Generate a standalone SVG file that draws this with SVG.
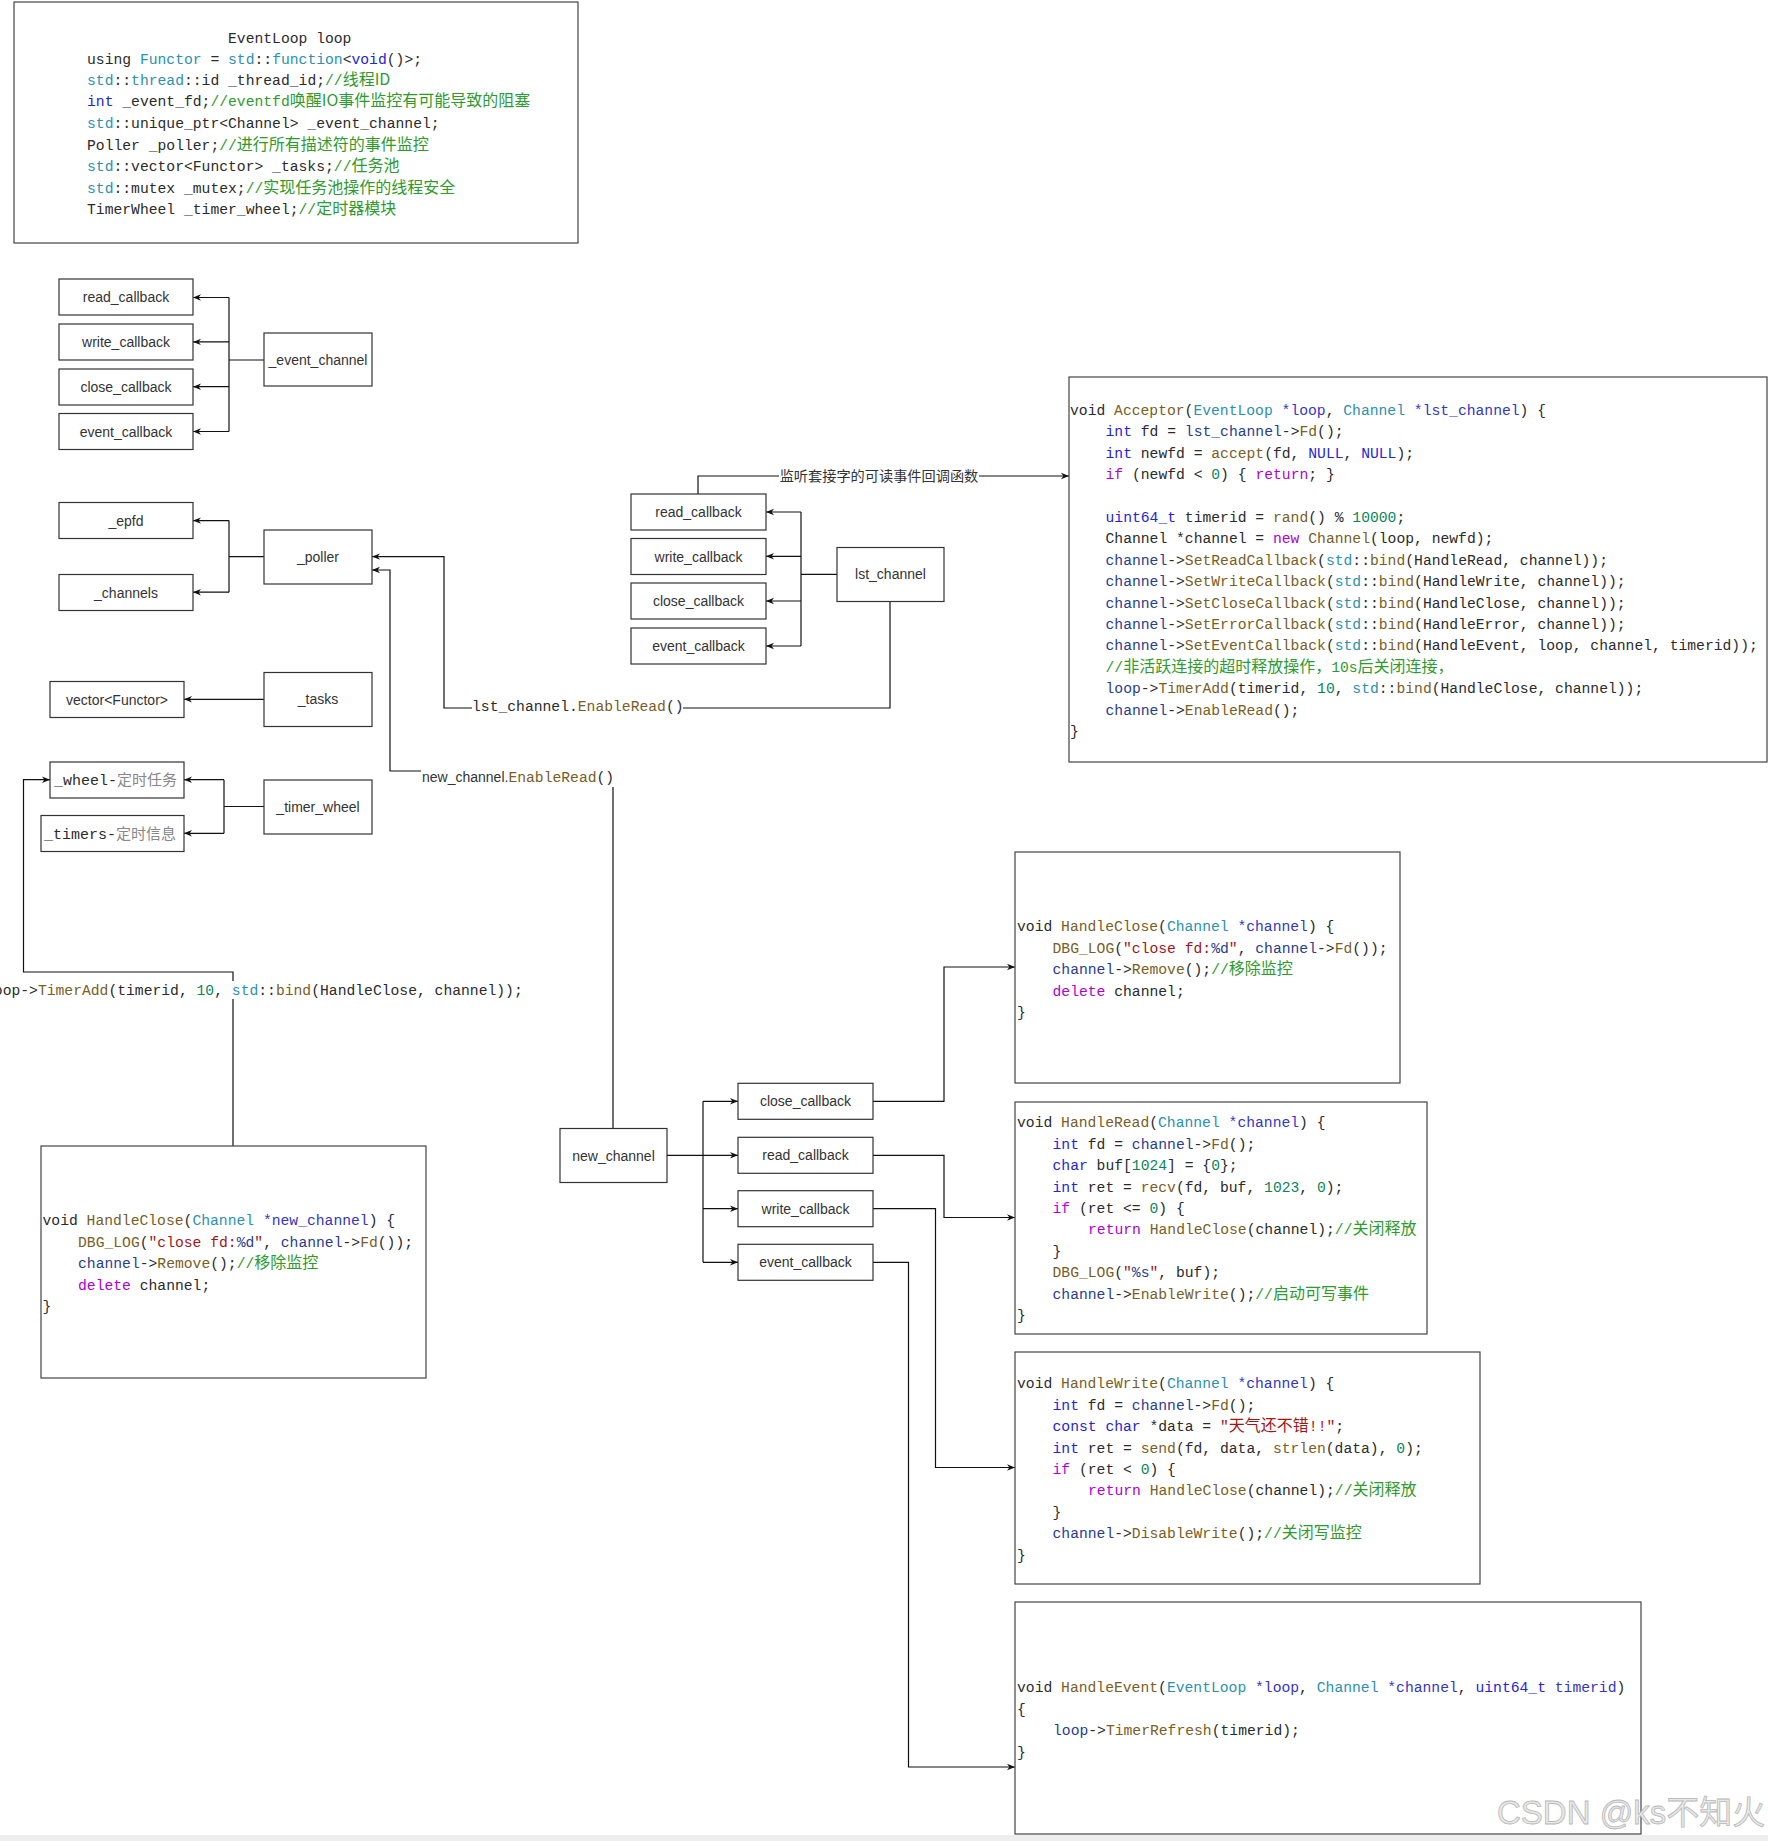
<svg xmlns="http://www.w3.org/2000/svg" width="1768" height="1841" viewBox="0 0 1768 1841">
<style>
.m{font-family:"Liberation Mono","DejaVu Sans Mono","Noto Sans CJK SC",monospace;font-size:14.7px;fill:#2b2b2b}
.z{font-family:"Noto Sans CJK SC",sans-serif;font-size:16px}
.t{fill:#2b91af}.k{fill:#2424dc}.f{fill:#795e26}.g{fill:#2e9b2e}.n{fill:#098658}.s{fill:#a31515}.v{fill:#2a3c8f}.q{fill:#3535c8}.p{fill:#af00db}
.l{font-family:"Liberation Sans",Arial,sans-serif;font-size:14px;fill:#333;text-anchor:middle}
.b{fill:#fff;stroke:#333;stroke-width:1.2}
.cb{fill:#fff;stroke:#444;stroke-width:1.2}
.e{fill:none;stroke:#111;stroke-width:1.2}
.a{marker-end:url(#ah)}
.bg{fill:#fff}
.cn{font-family:"Noto Sans CJK SC",sans-serif;font-size:14.2px;fill:#333;text-anchor:middle}
.gr{font-family:"Noto Sans CJK SC",sans-serif;font-size:15px;fill:#888}
</style>
<defs>
<marker id="ah" viewBox="0 0 10 10" refX="10" refY="5" markerWidth="8" markerHeight="8" orient="auto" markerUnits="userSpaceOnUse"><path d="M0,1 L10,5 L0,9 L3,5 z" fill="#111"/></marker>
</defs>
<rect x="0" y="0" width="1768" height="1841" fill="#fff"/>
<rect x="0" y="1835" width="1768" height="6" fill="#eeeeee"/>

<g id="connectors">
<path class="e" d="M264,360 H229"/><path class="e" d="M229,297.5 V431.5"/>
<path class="e a" d="M229,297.5 H193"/><path class="e a" d="M229,341.9 H193"/><path class="e a" d="M229,386.7 H193"/><path class="e a" d="M229,431.5 H193"/>
<path class="e" d="M264,556.6 H229"/><path class="e" d="M229,520.6 V592.2"/>
<path class="e a" d="M229,520.6 H193"/><path class="e a" d="M229,592.2 H193"/>
<path class="e a" d="M264,699.3 H184"/>
<path class="e" d="M264,806.5 H224"/><path class="e" d="M224,779.7 V833.3"/>
<path class="e a" d="M224,779.7 H184"/><path class="e a" d="M224,833.3 H184"/>
<path class="e" d="M837,574.3 H801"/><path class="e" d="M801,512 V646"/>
<path class="e a" d="M801,512 H766"/><path class="e a" d="M801,556.3 H766"/><path class="e a" d="M801,601 H766"/><path class="e a" d="M801,646 H766"/>
<path class="e a" d="M698,494 V476 H1069"/>
<path class="e a" d="M890,601 V708 H444 V556.6 H372"/>
<path class="e a" d="M613,1128 V771 H390 V570 H372"/>
<path class="e a" d="M233,1146 V972 H23.5 V779.7 H50"/>
<path class="e a" d="M667,1155.3 H738"/><path class="e" d="M703,1101.3 V1262.3"/>
<path class="e a" d="M703,1101.3 H738"/><path class="e a" d="M703,1208.7 H738"/><path class="e a" d="M703,1262.3 H738"/>
<path class="e a" d="M873,1101.3 H944 V967 H1015"/>
<path class="e a" d="M873,1155.3 H944 V1217.5 H1015"/>
<path class="e a" d="M873,1208.7 H935.5 V1467.5 H1015"/>
<path class="e a" d="M873,1262.3 H908.5 V1767 H1015"/>
<rect class="bg" x="779" y="467" width="200" height="18"/>
<text class="cn" x="879" y="481">监听套接字的可读事件回调函数</text>
<rect class="bg" x="472" y="697" width="211" height="19"/>
<text class="m" x="472" y="711">lst_channel.<tspan class="f">EnableRead</tspan>()</text>
<rect class="bg" x="421" y="766" width="194" height="21"/>
<text x="422" y="782"><tspan style="font-family:'Liberation Sans',Arial,sans-serif;font-size:14px;fill:#333">new_channel.</tspan><tspan class="m f">EnableRead</tspan><tspan class="m">()</tspan></text>
<rect class="bg" x="-16" y="981" width="540" height="18"/>
<text class="m" x="-15" y="995">loop-&gt;<tspan class="f">TimerAdd</tspan>(timerid, <tspan class="n">10</tspan>, <tspan class="t">std</tspan>::<tspan class="f">bind</tspan>(HandleClose, channel));</text>
</g>

<g id="eventloop">
<rect class="cb" x="14" y="2" width="564" height="241"/>
<text class="m" x="228" y="43">EventLoop loop</text>
<text class="m" x="87" y="64">using <tspan class="t">Functor</tspan> = <tspan class="t">std</tspan>::<tspan class="t">function</tspan>&lt;<tspan class="k">void</tspan>()&gt;;</text>
<text class="m" x="87" y="85"><tspan class="t">std</tspan>::<tspan class="t">thread</tspan>::id _thread_id;<tspan class="g">//<tspan class="z">线程ID</tspan></tspan></text>
<text class="m" x="87" y="106"><tspan class="k">int</tspan> _event_fd;<tspan class="g">//eventfd<tspan class="z">唤醒IO事件监控有可能导致的阻塞</tspan></tspan></text>
<text class="m" x="87" y="128"><tspan class="t">std</tspan>::unique_ptr&lt;Channel&gt; _event_channel;</text>
<text class="m" x="87" y="149.5">Poller _poller;<tspan class="g">//<tspan class="z">进行所有描述符的事件监控</tspan></tspan></text>
<text class="m" x="87" y="171"><tspan class="t">std</tspan>::vector&lt;Functor&gt; _tasks;<tspan class="g">//<tspan class="z">任务池</tspan></tspan></text>
<text class="m" x="87" y="192.5"><tspan class="t">std</tspan>::mutex _mutex;<tspan class="g">//<tspan class="z">实现任务池操作的线程安全</tspan></tspan></text>
<text class="m" x="87" y="214">TimerWheel _timer_wheel;<tspan class="g">//<tspan class="z">定时器模块</tspan></tspan></text>
</g>

<g id="ec_read"><rect class="b" x="59" y="279" width="134" height="36"/><text class="l" x="126" y="302">read_callback</text></g>
<g id="ec_write"><rect class="b" x="59" y="324" width="134" height="36"/><text class="l" x="126" y="347">write_callback</text></g>
<g id="ec_close"><rect class="b" x="59" y="369" width="134" height="36"/><text class="l" x="126" y="392">close_callback</text></g>
<g id="ec_event"><rect class="b" x="59" y="413.5" width="134" height="36"/><text class="l" x="126" y="436.5">event_callback</text></g>
<g id="event_channel"><rect class="b" x="264" y="333" width="108" height="53"/><text class="l" x="318" y="365">_event_channel</text></g>

<g id="epfd"><rect class="b" x="59" y="502.5" width="134" height="36"/><text class="l" x="126" y="525.5">_epfd</text></g>
<g id="channels"><rect class="b" x="59" y="574.5" width="134" height="36"/><text class="l" x="126" y="597.5">_channels</text></g>
<g id="poller"><rect class="b" x="264" y="530" width="108" height="54"/><text class="l" x="318" y="561.5">_poller</text></g>

<g id="vector_functor"><rect class="b" x="50" y="681.5" width="134" height="36"/><text class="l" x="117" y="704.5">vector&lt;Functor&gt;</text></g>
<g id="tasks"><rect class="b" x="264" y="672.5" width="108" height="54"/><text class="l" x="318" y="704">_tasks</text></g>

<g id="wheel"><rect class="b" x="50" y="762" width="134" height="36"/><text x="54" y="785"><tspan class="m" style="font-size:15px">_wheel-</tspan><tspan class="gr">定时任务</tspan></text></g>
<g id="timers"><rect class="b" x="41" y="815.5" width="143" height="36"/><text x="44" y="838.5"><tspan class="m" style="font-size:15px">_timers-</tspan><tspan class="gr">定时信息</tspan></text></g>
<g id="timer_wheel"><rect class="b" x="264" y="780" width="108" height="54"/><text class="l" x="318" y="811.5">_timer_wheel</text></g>

<g id="lst_read"><rect class="b" x="631" y="494" width="135" height="36"/><text class="l" x="698.5" y="517">read_callback</text></g>
<g id="lst_write"><rect class="b" x="631" y="538.5" width="135" height="36"/><text class="l" x="698.5" y="561.5">write_callback</text></g>
<g id="lst_close"><rect class="b" x="631" y="583" width="135" height="36"/><text class="l" x="698.5" y="606">close_callback</text></g>
<g id="lst_event"><rect class="b" x="631" y="628" width="135" height="36"/><text class="l" x="698.5" y="651">event_callback</text></g>
<g id="lst_channel"><rect class="b" x="837" y="547.5" width="107" height="54"/><text class="l" x="890.5" y="579">lst_channel</text></g>

<g id="acceptor">
<rect class="cb" x="1069" y="377" width="698" height="385"/>
<text class="m" x="1070" y="415">void <tspan class="f">Acceptor</tspan>(<tspan class="t">EventLoop</tspan> <tspan class="q">*loop</tspan>, <tspan class="t">Channel</tspan> <tspan class="q">*lst_channel</tspan>) {</text>
<text class="m" x="1105.5" y="436.4"><tspan class="k">int</tspan> fd = <tspan class="v">lst_channel</tspan>-&gt;<tspan class="f">Fd</tspan>();</text>
<text class="m" x="1105.5" y="457.8"><tspan class="k">int</tspan> newfd = <tspan class="f">accept</tspan>(fd, <tspan class="k">NULL</tspan>, <tspan class="k">NULL</tspan>);</text>
<text class="m" x="1105.5" y="479.2"><tspan class="p">if</tspan> (newfd &lt; <tspan class="n">0</tspan>) { <tspan class="p">return</tspan>; }</text>
<text class="m" x="1105.5" y="522"><tspan class="k">uint64_t</tspan> timerid = <tspan class="f">rand</tspan>() % <tspan class="n">10000</tspan>;</text>
<text class="m" x="1105.5" y="543.4">Channel *channel = <tspan class="p">new</tspan> <tspan class="f">Channel</tspan>(loop, newfd);</text>
<text class="m" x="1105.5" y="564.8"><tspan class="v">channel</tspan>-&gt;<tspan class="f">SetReadCallback</tspan>(<tspan class="t">std</tspan>::<tspan class="f">bind</tspan>(HandleRead, channel));</text>
<text class="m" x="1105.5" y="586.2"><tspan class="v">channel</tspan>-&gt;<tspan class="f">SetWriteCallback</tspan>(<tspan class="t">std</tspan>::<tspan class="f">bind</tspan>(HandleWrite, channel));</text>
<text class="m" x="1105.5" y="607.6"><tspan class="v">channel</tspan>-&gt;<tspan class="f">SetCloseCallback</tspan>(<tspan class="t">std</tspan>::<tspan class="f">bind</tspan>(HandleClose, channel));</text>
<text class="m" x="1105.5" y="629"><tspan class="v">channel</tspan>-&gt;<tspan class="f">SetErrorCallback</tspan>(<tspan class="t">std</tspan>::<tspan class="f">bind</tspan>(HandleError, channel));</text>
<text class="m" x="1105.5" y="650.4"><tspan class="v">channel</tspan>-&gt;<tspan class="f">SetEventCallback</tspan>(<tspan class="t">std</tspan>::<tspan class="f">bind</tspan>(HandleEvent, loop, channel, timerid));</text>
<text class="m g" x="1105.5" y="671.8">//<tspan class="z">非活跃连接的超时释放操作，</tspan>10s<tspan class="z">后关闭连接，</tspan></text>
<text class="m" x="1105.5" y="693.2"><tspan class="v">loop</tspan>-&gt;<tspan class="f">TimerAdd</tspan>(timerid, <tspan class="n">10</tspan>, <tspan class="t">std</tspan>::<tspan class="f">bind</tspan>(HandleClose, channel));</text>
<text class="m" x="1105.5" y="714.6"><tspan class="v">channel</tspan>-&gt;<tspan class="f">EnableRead</tspan>();</text>
<text class="m" x="1070" y="736">}</text>
</g>

<g id="handle_close_left">
<rect class="cb" x="41" y="1146" width="385" height="232"/>
<text class="m" x="42.5" y="1225">void <tspan class="f">HandleClose</tspan>(<tspan class="t">Channel</tspan> <tspan class="q">*new_channel</tspan>) {</text>
<text class="m" x="78" y="1246.5"><tspan class="f">DBG_LOG</tspan>(<tspan class="s">"close fd:</tspan><tspan class="v">%d</tspan><tspan class="s">"</tspan>, <tspan class="v">channel</tspan>-&gt;<tspan class="f">Fd</tspan>());</text>
<text class="m" x="78" y="1268"><tspan class="v">channel</tspan>-&gt;<tspan class="f">Remove</tspan>();<tspan class="g">//<tspan class="z">移除监控</tspan></tspan></text>
<text class="m" x="78" y="1289.5"><tspan class="p">delete</tspan> channel;</text>
<text class="m" x="42.5" y="1311">}</text>
</g>

<g id="new_channel"><rect class="b" x="560" y="1128.5" width="107" height="54"/><text class="l" x="613.5" y="1160.5">new_channel</text></g>
<g id="nc_close"><rect class="b" x="738" y="1083.3" width="135" height="36"/><text class="l" x="805.5" y="1106.3">close_callback</text></g>
<g id="nc_read"><rect class="b" x="738" y="1137.3" width="135" height="36"/><text class="l" x="805.5" y="1160.3">read_callback</text></g>
<g id="nc_write"><rect class="b" x="738" y="1190.7" width="135" height="36"/><text class="l" x="805.5" y="1213.7">write_callback</text></g>
<g id="nc_event"><rect class="b" x="738" y="1244.3" width="135" height="36"/><text class="l" x="805.5" y="1267.3">event_callback</text></g>

<g id="handle_close">
<rect class="cb" x="1015" y="852" width="385" height="231"/>
<text class="m" x="1017" y="931">void <tspan class="f">HandleClose</tspan>(<tspan class="t">Channel</tspan> <tspan class="q">*channel</tspan>) {</text>
<text class="m" x="1052.5" y="952.5"><tspan class="f">DBG_LOG</tspan>(<tspan class="s">"close fd:</tspan><tspan class="v">%d</tspan><tspan class="s">"</tspan>, <tspan class="v">channel</tspan>-&gt;<tspan class="f">Fd</tspan>());</text>
<text class="m" x="1052.5" y="974"><tspan class="v">channel</tspan>-&gt;<tspan class="f">Remove</tspan>();<tspan class="g">//<tspan class="z">移除监控</tspan></tspan></text>
<text class="m" x="1052.5" y="995.5"><tspan class="p">delete</tspan> channel;</text>
<text class="m" x="1017" y="1017">}</text>
</g>

<g id="handle_read">
<rect class="cb" x="1015" y="1102" width="412" height="232"/>
<text class="m" x="1017" y="1127.3">void <tspan class="f">HandleRead</tspan>(<tspan class="t">Channel</tspan> <tspan class="q">*channel</tspan>) {</text>
<text class="m" x="1052.5" y="1148.7"><tspan class="k">int</tspan> fd = <tspan class="v">channel</tspan>-&gt;<tspan class="f">Fd</tspan>();</text>
<text class="m" x="1052.5" y="1170.1"><tspan class="k">char</tspan> buf[<tspan class="n">1024</tspan>] = {<tspan class="n">0</tspan>};</text>
<text class="m" x="1052.5" y="1191.5"><tspan class="k">int</tspan> ret = <tspan class="f">recv</tspan>(fd, buf, <tspan class="n">1023</tspan>, <tspan class="n">0</tspan>);</text>
<text class="m" x="1052.5" y="1212.9"><tspan class="p">if</tspan> (ret &lt;= <tspan class="n">0</tspan>) {</text>
<text class="m" x="1088" y="1234.3"><tspan class="p">return</tspan> <tspan class="f">HandleClose</tspan>(channel);<tspan class="g">//<tspan class="z">关闭释放</tspan></tspan></text>
<text class="m" x="1052.5" y="1255.7">}</text>
<text class="m" x="1052.5" y="1277.1"><tspan class="f">DBG_LOG</tspan>(<tspan class="s">"</tspan><tspan class="v">%s</tspan><tspan class="s">"</tspan>, buf);</text>
<text class="m" x="1052.5" y="1298.5"><tspan class="v">channel</tspan>-&gt;<tspan class="f">EnableWrite</tspan>();<tspan class="g">//<tspan class="z">启动可写事件</tspan></tspan></text>
<text class="m" x="1017" y="1319.9">}</text>
</g>

<g id="handle_write">
<rect class="cb" x="1015" y="1352" width="465" height="232"/>
<text class="m" x="1017" y="1388.3">void <tspan class="f">HandleWrite</tspan>(<tspan class="t">Channel</tspan> <tspan class="q">*channel</tspan>) {</text>
<text class="m" x="1052.5" y="1409.7"><tspan class="k">int</tspan> fd = <tspan class="v">channel</tspan>-&gt;<tspan class="f">Fd</tspan>();</text>
<text class="m" x="1052.5" y="1431.1"><tspan class="k">const</tspan> <tspan class="k">char</tspan> *data = <tspan class="s">"<tspan class="z">天气还不错</tspan>!!"</tspan>;</text>
<text class="m" x="1052.5" y="1452.5"><tspan class="k">int</tspan> ret = <tspan class="f">send</tspan>(fd, data, <tspan class="f">strlen</tspan>(data), <tspan class="n">0</tspan>);</text>
<text class="m" x="1052.5" y="1473.9"><tspan class="p">if</tspan> (ret &lt; <tspan class="n">0</tspan>) {</text>
<text class="m" x="1088" y="1495.3"><tspan class="p">return</tspan> <tspan class="f">HandleClose</tspan>(channel);<tspan class="g">//<tspan class="z">关闭释放</tspan></tspan></text>
<text class="m" x="1052.5" y="1516.7">}</text>
<text class="m" x="1052.5" y="1538.1"><tspan class="v">channel</tspan>-&gt;<tspan class="f">DisableWrite</tspan>();<tspan class="g">//<tspan class="z">关闭写监控</tspan></tspan></text>
<text class="m" x="1017" y="1559.5">}</text>
</g>

<g id="handle_event">
<rect class="cb" x="1015" y="1602" width="626" height="232"/>
<text class="m" x="1017" y="1692.3">void <tspan class="f">HandleEvent</tspan>(<tspan class="t">EventLoop</tspan> <tspan class="q">*loop</tspan>, <tspan class="t">Channel</tspan> <tspan class="q">*channel</tspan>, <tspan class="k">uint64_t</tspan> <tspan class="q">timerid</tspan>)</text>
<text class="m" x="1017" y="1713.7">{</text>
<text class="m" x="1053" y="1735.1"><tspan class="v">loop</tspan>-&gt;<tspan class="f">TimerRefresh</tspan>(timerid);</text>
<text class="m" x="1017" y="1756.5">}</text>
</g>

<text x="1497" y="1824" style="font-family:'Liberation Sans','Noto Sans CJK SC',sans-serif;font-size:33px;fill:#e8e8e8;stroke:#b8b8b8;stroke-width:0.8">CSDN @ks不知火</text>
</svg>
